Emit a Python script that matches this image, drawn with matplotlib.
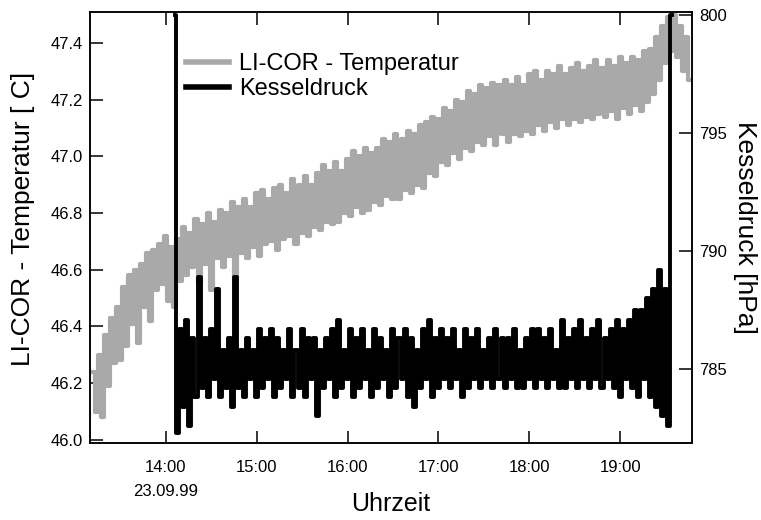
import numpy as np
from matplotlib import pyplot as plt

plt.rcParams['font.family'] = ['Liberation Sans', 'DejaVu Sans']

# LI-COR temperature [C], one value every 2 minutes from 13:12 on
temp_start = 13.2
temp = [
    46.24, 46.10, 46.30, 46.08, 46.37, 46.19, 46.43, 46.27, 46.47, 46.28,
    46.54, 46.33, 46.58, 46.41, 46.60, 46.34, 46.62, 46.47, 46.66, 46.42,
    46.67, 46.53, 46.69, 46.55, 46.72, 46.49, 46.68, 46.47, 46.71, 46.56,
    46.75, 46.58, 46.73, 46.61, 46.78, 46.55, 46.76, 46.62, 46.80, 46.53,
    46.77, 46.64, 46.81, 46.61, 46.80, 46.65, 46.84, 46.57, 46.82, 46.66,
    46.85, 46.64, 46.82, 46.68, 46.87, 46.65, 46.88, 46.69, 46.85, 46.70,
    46.89, 46.67, 46.90, 46.71, 46.87, 46.72, 46.92, 46.69, 46.90, 46.73,
    46.93, 46.72, 46.90, 46.75, 46.94, 46.74, 46.97, 46.77, 46.95, 46.76,
    46.98, 46.77, 46.95, 46.80, 46.99, 46.79, 47.02, 46.82, 47.00, 46.80,
    47.03, 46.81, 47.01, 46.84, 47.03, 46.83, 47.06, 46.86, 47.05, 46.85,
    47.08, 46.85, 47.06, 46.88, 47.09, 46.87, 47.08, 46.90, 47.11, 46.89,
    47.12, 46.94, 47.14, 46.93, 47.13, 46.98, 47.17, 46.97, 47.16, 47.01,
    47.20, 46.99, 47.19, 47.03, 47.23, 47.02, 47.22, 47.05, 47.25, 47.04,
    47.24, 47.07, 47.26, 47.04, 47.25, 47.08, 47.27, 47.05, 47.25, 47.08,
    47.28, 47.07, 47.25, 47.09, 47.29, 47.08, 47.30, 47.11, 47.27, 47.09,
    47.30, 47.12, 47.29, 47.10, 47.32, 47.13, 47.29, 47.11, 47.31, 47.13,
    47.33, 47.12, 47.30, 47.14, 47.32, 47.13, 47.34, 47.15, 47.31, 47.14,
    47.34, 47.16, 47.32, 47.13, 47.35, 47.17, 47.33, 47.15, 47.35, 47.18,
    47.34, 47.16, 47.37, 47.19, 47.38, 47.22, 47.42, 47.27, 47.46, 47.33,
    47.49, 47.37, 47.50, 47.35, 47.46, 47.30, 47.42, 47.27,
]

# Kesseldruck [hPa], one value every 2 minutes from 14:06 on
press_start = 14.1
press = [
    800.0, 782.3, 786.7, 783.4, 787.1, 782.6, 786.3, 783.8, 788.9, 784.2,
    786.3, 783.8, 786.7, 784.6, 788.4, 783.8, 785.8, 784.2, 786.3, 783.4,
    788.9, 784.2, 785.8, 783.8, 786.3, 784.6, 785.8, 783.8, 786.7, 784.2,
    786.3, 784.6, 786.7, 783.8, 786.3, 784.2, 785.8, 784.6, 786.7, 783.8,
    785.8, 784.2, 786.7, 783.8, 786.3, 784.6, 786.3, 783.0, 785.8, 784.2,
    786.3, 784.6, 786.7, 783.8, 787.1, 784.2, 785.8, 784.6, 786.7, 783.8,
    786.3, 784.2, 786.7, 784.6, 785.8, 783.8, 786.7, 784.2, 786.3, 784.6,
    785.8, 783.8, 786.7, 784.2, 786.3, 784.6, 786.7, 783.8, 786.3, 783.4,
    785.8, 784.2, 786.7, 784.6, 787.1, 783.8, 786.3, 784.2, 786.7, 784.6,
    786.3, 784.2, 786.7, 784.6, 785.8, 783.8, 786.7, 784.2, 786.3, 784.6,
    786.7, 784.2, 785.8, 784.6, 786.3, 784.2, 786.7, 784.6, 786.3, 784.2,
    786.3, 784.6, 786.7, 784.2, 785.8, 784.2, 786.3, 784.6, 786.7, 784.2,
    786.7, 784.6, 786.3, 784.2, 786.7, 784.6, 785.8, 784.2, 787.1, 784.2,
    786.3, 784.6, 786.7, 784.2, 787.1, 784.6, 786.3, 784.2, 786.7, 784.6,
    787.1, 784.2, 786.3, 784.6, 786.7, 784.2, 787.1, 783.8, 786.7, 784.6,
    787.1, 784.2, 787.5, 783.8, 787.5, 784.6, 788.0, 783.8, 788.4, 783.4,
    789.2, 783.0, 788.4, 782.6, 800.0,
]

hour_ticks = [14, 15, 16, 17, 18, 19]
hour_labels = ['14:00', '15:00', '16:00', '17:00', '18:00', '19:00']
date_label = '23.09.99'
temp_ticks = [46.0, 46.2, 46.4, 46.6, 46.8, 47.0, 47.2, 47.4]
press_ticks = [785, 790, 795, 800]

step = 2 / 60
t_temp = temp_start + step * np.arange(len(temp))
t_press = press_start + step * np.arange(len(press))

fig = plt.figure(figsize=(7.61, 5.2), dpi=100)
ax = fig.add_axes([90 / 761, 1 - 443 / 520, 602 / 761, 431 / 520])
ax2 = ax.twinx()

l1, = ax.plot(t_temp, temp, color='#a9a9a9', lw=3, drawstyle='steps-mid',
              label='LI-COR - Temperatur')
l2, = ax2.plot(t_press, press, color='black', lw=2.8, drawstyle='steps-mid',
               label='Kesseldruck')

ax.set_xlim(13.167, 19.79)
ax.set_ylim(45.989, 47.509)
ax2.set_ylim(781.87, 800.13)

ax.set_xticks(hour_ticks)
ax.set_xticklabels(hour_labels)
ax.annotate(date_label, xy=(hour_ticks[0], 0), xycoords=('data', 'axes fraction'),
            xytext=(0, -35), textcoords='offset points',
            ha='center', va='center', fontsize=12)
ax.set_yticks(temp_ticks)
ax.set_yticklabels([f'{v:.1f}' for v in temp_ticks])
ax2.set_yticks(press_ticks)

ax.tick_params(axis='x', direction='in', length=9, width=1.1, labelsize=12,
               pad=12.5, top=True)
ax.tick_params(axis='y', direction='in', length=9.5, width=1.1, labelsize=12,
               pad=5)
ax2.tick_params(axis='y', direction='in', length=9.5, width=1.1,
                labelsize=12, pad=5)
for a in (ax, ax2):
    for s in a.spines.values():
        s.set_linewidth(1.1)

ax.set_xlabel('Uhrzeit', fontsize=18)
ax.xaxis.set_label_coords(0.5, -0.1137)
ax.set_ylabel('LI-COR - Temperatur [ C]', fontsize=19)
ax.yaxis.set_label_coords(-0.092, 0.52)
ax2.set_ylabel('Kesseldruck [hPa]', fontsize=19, rotation=270,
               labelpad=22)

leg = ax2.legend(handles=[l1, l2], loc='upper left', frameon=False,
                 fontsize=17, handlelength=1.8, handletextpad=0.45,
                 labelspacing=0.12, borderpad=0, borderaxespad=0,
                 bbox_to_anchor=(186 / 761, 1 - 53 / 520),
                 bbox_transform=fig.transFigure)
for h in leg.get_lines():
    h.set_linewidth(4)

fig.savefig('out.png', dpi=100)
